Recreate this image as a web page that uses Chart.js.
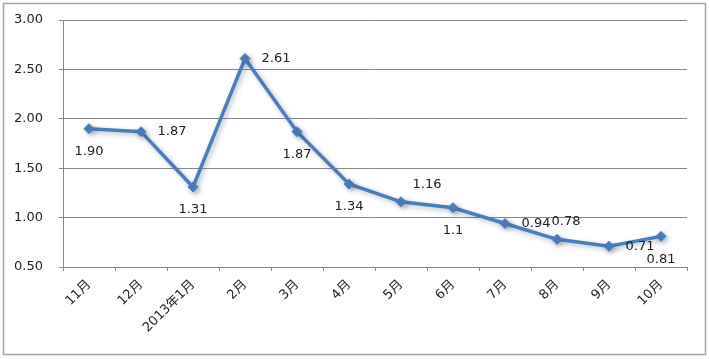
<!DOCTYPE html>
<html>
<head>
<meta charset="utf-8">
<script src="https://cdn.jsdelivr.net/npm/chart.js@4/dist/chart.umd.min.js"></script>
<style>
  html, body { margin: 0; padding: 0; background: #fff; }
  #wrap { width: 709px; height: 359px; position: relative; }
</style>
</head>
<body>
<div id="wrap"><canvas id="lineChart" width="709" height="359"></canvas></div>
<script>
// data grafik
const bulan = ['11月', '12月', '2013年1月', '2月', '3月', '4月', '5月', '6月', '7月', '8月', '9月', '10月'];
const nilai = [1.90, 1.87, 1.31, 2.61, 1.87, 1.34, 1.16, 1.1, 0.94, 0.78, 0.71, 0.81];
const labelNilai = ['1.90', '1.87', '1.31', '2.61', '1.87', '1.34', '1.16', '1.1', '0.94', '0.78', '0.71', '0.81'];
const yTicks = [0.5, 1.0, 1.5, 2.0, 2.5, 3.0];

// posisi label data (gaya saja)
const posisiLabel = ['below', 'right', 'below', 'right', 'below', 'below', 'aboveRight', 'below', 'right', 'above', 'right', 'below'];
const offsetPosisi = {
    below: [0, 23],
    right: [31, 0],
    above: [9, -18],
    aboveRight: [26, -17]
};

const FONT = "'DejaVu Sans', 'Noto Sans CJK SC', sans-serif";
const LINE_COLOR = '#4a7ebb';

// latar putih + bingkai luar
const bingkaiPlugin = {
    id: 'bingkai',
    beforeDraw(chart) {
        const ctx = chart.ctx;
        ctx.save();
        ctx.fillStyle = '#fff';
        ctx.fillRect(0, 0, chart.width, chart.height);
        ctx.strokeStyle = '#a6a6a6';
        ctx.lineWidth = 1.5;
        ctx.strokeRect(3.5, 3.5, 702, 351);
        ctx.restore();
    }
};

// bayangan garis
const bayanganPlugin = {
    id: 'bayangan',
    beforeDatasetDraw(chart) {
        const ctx = chart.ctx;
        ctx.save();
        ctx.shadowColor = 'rgba(40, 60, 90, 0.35)';
        ctx.shadowBlur = 5;
        ctx.shadowOffsetX = 2;
        ctx.shadowOffsetY = 2;
    },
    afterDatasetDraw(chart) {
        chart.ctx.restore();
    }
};

// label nilai di tiap titik
const labelPlugin = {
    id: 'labelNilai',
    afterDatasetsDraw(chart) {
        const ctx = chart.ctx;
        const meta = chart.getDatasetMeta(0);
        ctx.save();
        ctx.font = '13px ' + FONT;
        ctx.fillStyle = '#222';
        ctx.textAlign = 'center';
        ctx.textBaseline = 'middle';
        meta.data.forEach((pt, i) => {
            const off = offsetPosisi[posisiLabel[i]] || [0, 0];
            ctx.fillText(labelNilai[i], pt.x + off[0], pt.y + off[1]);
        });
        ctx.restore();
    }
};

const ctx = document.getElementById('lineChart').getContext('2d');
new Chart(ctx, {
    type: 'line',
    data: {
        labels: bulan,
        datasets: [{
            data: nilai,
            borderColor: LINE_COLOR,
            backgroundColor: LINE_COLOR,
            borderWidth: 3.5,
            pointStyle: 'rectRot',
            pointRadius: 5,
            pointBorderWidth: 1,
            tension: 0,
            fill: false
        }]
    },
    options: {
        responsive: false,
        animation: false,
        devicePixelRatio: 1,
        layout: {
            padding: { top: 20, right: 22, left: 0, bottom: 0 }
        },
        plugins: {
            legend: { display: false },
            tooltip: { enabled: false }
        },
        scales: {
            x: {
                offset: true,
                grid: {
                    offset: true,
                    drawOnChartArea: false,
                    drawTicks: true,
                    tickLength: 4,
                    color: '#888'
                },
                border: { color: '#888', width: 1 },
                ticks: {
                    minRotation: 45,
                    maxRotation: 45,
                    autoSkip: false,
                    padding: 6,
                    color: '#222',
                    font: { family: FONT, size: 13 }
                },
                afterFit(scale) {
                    scale.height = 92;
                    scale.paddingLeft = 0;
                    scale.paddingRight = 0;
                }
            },
            y: {
                min: 0.5,
                max: 3.0,
                afterBuildTicks(scale) {
                    scale.ticks = yTicks.map(v => ({ value: v }));
                },
                grid: {
                    color: '#888',
                    tickLength: 4
                },
                border: { color: '#888', width: 1 },
                ticks: {
                    padding: 16,
                    color: '#222',
                    font: { family: FONT, size: 13 },
                    callback: v => Number(v).toFixed(2)
                },
                afterFit(scale) {
                    scale.width = 63;
                    scale.paddingTop = 0;
                    scale.paddingBottom = 0;
                }
            }
        }
    },
    plugins: [bingkaiPlugin, bayanganPlugin, labelPlugin]
});
</script>
</body>
</html>
